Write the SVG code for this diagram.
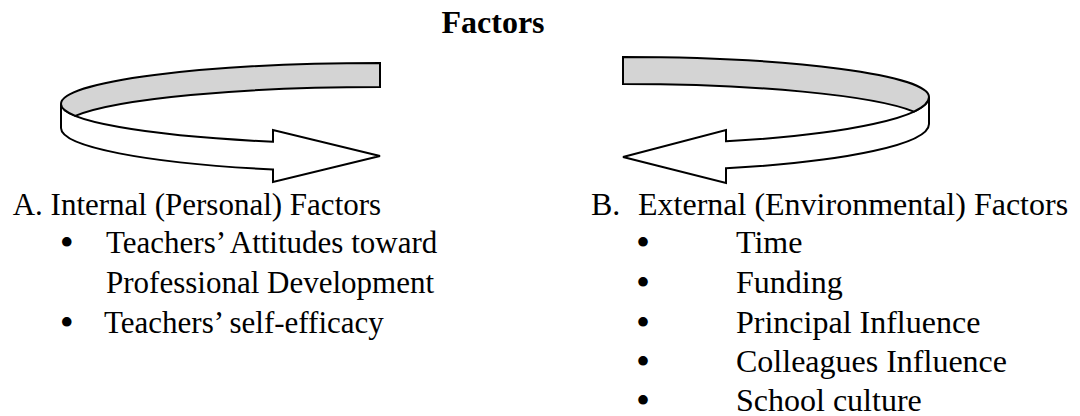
<svg xmlns="http://www.w3.org/2000/svg" width="1080" height="416" viewBox="0 0 1080 416">
<style>
.t{font-family:"Liberation Serif","Times New Roman",serif;font-size:32px;fill:#000}
.s{font-size:31px}
.bu{font-size:40px}
.b{font-weight:bold}
.band{stroke:#000;stroke-width:2;stroke-linejoin:miter}
.w{fill:#fff}
.g{fill:#d4d4d4}
</style>
<rect width="1080" height="416" fill="#fff"/>
<g id="title"><text class="t b" x="493" y="33" text-anchor="middle">Factors</text></g>
<g id="connectors">
<g id="arrow-left">
<path class="band w" d="M61,104 L61,128 A319,44 0 0 0 273,169.5 L273,182 L380,156 L273,130 L273,141.7 A319,40 0 0 1 61,104 Z"/>
<path class="band g" d="M380,63 A319,41 0 0 0 61,104 A319,40 0 0 0 75.3,115.9 A319,41 0 0 1 380,87 Z"/>
</g>
<g id="arrow-right">
<path class="band w" d="M929,97 L929,124 A306,47 0 0 1 726,168.3 L726,183 L623,157 L726,130 L726,141.3 A306,47 0 0 0 929,97 Z"/>
<path class="band g" d="M623,57 A306,40 0 0 1 929,97 A306,47 0 0 1 913.9,111.6 A306,40 0 0 0 623,84 Z"/>
</g>
</g>
<g id="internal">
<text class="t s" x="12.7" y="215">A. Internal (Personal) Factors</text>
<text class="t bu" x="66.7" y="256" text-anchor="middle">•</text>
<text class="t s" x="106" y="253.3">Teachers’ Attitudes toward</text>
<text class="t s" x="106" y="292.7">Professional Development</text>
<text class="t bu" x="66.7" y="335.5" text-anchor="middle">•</text>
<text class="t s" x="104" y="332.7">Teachers’ self-efficacy</text>
</g>
<g id="external">
<text class="t" x="591" y="215">B.</text>
<text class="t" x="638" y="215">External (Environmental) Factors</text>
<text class="t bu" x="643" y="256" text-anchor="middle">•</text>
<text class="t" x="736" y="253.3">Time</text>
<text class="t bu" x="643" y="295.5" text-anchor="middle">•</text>
<text class="t" x="736" y="292.7">Funding</text>
<text class="t bu" x="643" y="335.5" text-anchor="middle">•</text>
<text class="t" x="736" y="332.7">Principal Influence</text>
<text class="t bu" x="643" y="374.5" text-anchor="middle">•</text>
<text class="t" x="736" y="371.7">Colleagues Influence</text>
<text class="t bu" x="643" y="413.5" text-anchor="middle">•</text>
<text class="t" x="736" y="411">School culture</text>
</g>
</svg>
